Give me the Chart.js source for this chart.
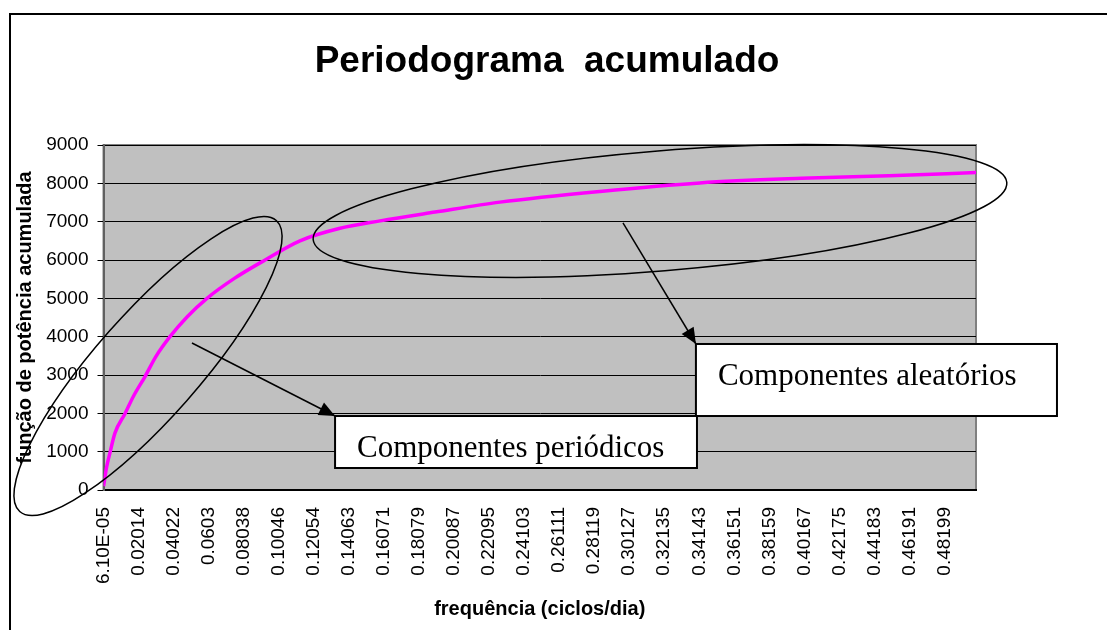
<!DOCTYPE html>
<html lang="pt">
<head>
    <meta charset="UTF-8">
    <title>Periodograma acumulado</title>
    <script src="https://cdn.jsdelivr.net/npm/chart.js"></script>
    <style>
        body { margin: 0; background: #fff; }
        #wrap { width: 1107px; height: 630px; }
    </style>
</head>
<body>
<div id="wrap"><canvas id="periodChart" width="1107" height="630"></canvas></div>
<script>
// frequency (cycles/day) and accumulated power
const freqs = [0.000061, 0.0018, 0.0037, 0.0066, 0.0123, 0.0171, 0.0238, 0.030, 0.0381, 0.048,
               0.0593, 0.075, 0.0926, 0.1126, 0.135, 0.1585, 0.19, 0.2272, 0.2845, 0.3418,
               0.40, 0.45, 0.50];
const power = [100, 600, 970, 1490, 1990, 2440, 2960, 3480, 4000, 4520,
               5000, 5520, 6000, 6500, 6820, 7020, 7250, 7510, 7790, 8010,
               8130, 8200, 8280];

// category labels shown under the x axis
const xTickLabels = ['6.10E-05', '0.02014', '0.04022', '0.0603', '0.08038', '0.10046', '0.12054',
    '0.14063', '0.16071', '0.18079', '0.20087', '0.22095', '0.24103', '0.26111', '0.28119',
    '0.30127', '0.32135', '0.34143', '0.36151', '0.38159', '0.40167', '0.42175', '0.44183',
    '0.46191', '0.48199'];
const yTicks = [0, 1000, 2000, 3000, 4000, 5000, 6000, 7000, 8000, 9000];

// annotation anchors, given in axis units (frequency, power)
const periodicEllipse = { f: 0.0255, v: 3235 };
const randomEllipse = { f: 0.3189, v: 7279 };
const periodicArrow = [{ f: 0.0507, v: 3835 }, { f: 0.1327, v: 1930 }];
const randomArrow = [{ f: 0.2977, v: 6966 }, { f: 0.3395, v: 3809 }];
const periodicBox = [{ f: 0.1327, v: 1930 }, { f: 0.3401, v: 574 }];
const randomBox = [{ f: 0.3395, v: 3809 }, { f: 0.5464, v: 1930 }];
const periodicText = 'Componentes periódicos';
const randomText = 'Componentes aleatórios';

const points = freqs.map((f, i) => ({ x: f, y: power[i] }));
const xTickValues = xTickLabels.map(s => parseFloat(s));
const FONT = '"Liberation Sans", Arial, sans-serif';

const plotBg = {
    id: 'plotBg',
    beforeDraw(chart) {
        const { ctx, chartArea: a } = chart;
        ctx.save();
        // outer frame
        ctx.strokeStyle = '#000';
        ctx.lineWidth = 2;
        ctx.beginPath();
        ctx.moveTo(10, 630);
        ctx.lineTo(10, 14);
        ctx.lineTo(1107, 14);
        ctx.stroke();
        ctx.fillStyle = '#c0c0c0';
        ctx.fillRect(a.left, a.top, a.right - a.left, a.bottom - a.top);
        ctx.strokeStyle = '#808080';
        ctx.lineWidth = 2;
        ctx.strokeRect(a.left, a.top, a.right - a.left, a.bottom - a.top);
        ctx.restore();
    }
};

function px(chart, p) {
    return [chart.scales.x.getPixelForValue(p.f), chart.scales.y.getPixelForValue(p.v)];
}

function drawArrow(ctx, a, b) {
    ctx.beginPath();
    ctx.moveTo(a[0], a[1]);
    ctx.lineTo(b[0], b[1]);
    ctx.stroke();
    const ang = Math.atan2(b[1] - a[1], b[0] - a[0]);
    const len = 16, half = 7;
    ctx.beginPath();
    ctx.moveTo(b[0], b[1]);
    ctx.lineTo(b[0] - len * Math.cos(ang) + half * Math.sin(ang), b[1] - len * Math.sin(ang) - half * Math.cos(ang));
    ctx.lineTo(b[0] - len * Math.cos(ang) - half * Math.sin(ang), b[1] - len * Math.sin(ang) + half * Math.cos(ang));
    ctx.closePath();
    ctx.fill();
}

function drawBox(ctx, tl, br, text) {
    ctx.fillStyle = '#fff';
    ctx.fillRect(tl[0], tl[1], br[0] - tl[0], br[1] - tl[1]);
    ctx.lineWidth = 2;
    ctx.strokeRect(tl[0], tl[1], br[0] - tl[0], br[1] - tl[1]);
    ctx.fillStyle = '#000';
    ctx.font = '31px "Liberation Serif", "Times New Roman", serif';
    ctx.textAlign = 'left';
    ctx.textBaseline = 'alphabetic';
    ctx.fillText(text, tl[0] + 22, tl[1] + 41);
}

const notes = {
    id: 'notes',
    afterDraw(chart) {
        const ctx = chart.ctx;
        ctx.save();
        ctx.strokeStyle = '#000';
        ctx.fillStyle = '#000';
        ctx.lineWidth = 1.5;

        let c = px(chart, periodicEllipse);
        ctx.beginPath();
        ctx.ellipse(c[0], c[1], 194, 52, -48.6 * Math.PI / 180, 0, Math.PI * 2);
        ctx.stroke();

        c = px(chart, randomEllipse);
        ctx.beginPath();
        ctx.ellipse(c[0], c[1], 348, 60, -4.7 * Math.PI / 180, 0, Math.PI * 2);
        ctx.stroke();

        drawArrow(ctx, px(chart, periodicArrow[0]), px(chart, periodicArrow[1]));
        drawArrow(ctx, px(chart, randomArrow[0]), px(chart, randomArrow[1]));

        drawBox(ctx, px(chart, randomBox[0]), px(chart, randomBox[1]), randomText);
        drawBox(ctx, px(chart, periodicBox[0]), px(chart, periodicBox[1]), periodicText);
        ctx.restore();
    }
};

const ctx = document.getElementById('periodChart').getContext('2d');
new Chart(ctx, {
    type: 'line',
    data: {
        datasets: [{
            label: 'Periodograma acumulado',
            data: points,
            borderColor: '#ff00ff',
            borderWidth: 3.5,
            pointRadius: 0,
            cubicInterpolationMode: 'monotone',
            fill: false
        }]
    },
    options: {
        responsive: false,
        animation: false,
        devicePixelRatio: 1,
        layout: { padding: { left: 12, right: 25, top: 0, bottom: 4 } },
        plugins: {
            legend: { display: false },
            tooltip: { enabled: false },
            title: {
                display: true,
                text: 'Periodograma  acumulado',
                color: '#000',
                font: { family: FONT, size: 37, weight: 'bold' },
                padding: { top: 40, bottom: 60.6 }
            }
        },
        scales: {
            x: {
                type: 'linear',
                min: 0,
                max: 0.5,
                afterBuildTicks: s => { s.ticks = xTickValues.map(v => ({ value: v })); },
                afterFit: s => { s.height = 630 - 4 - 490; },
                grid: { display: false },
                border: { color: '#000', width: 2 },
                ticks: {
                    autoSkip: false,
                    minRotation: 90,
                    maxRotation: 90,
                    padding: 9,
                    color: '#000',
                    font: { family: FONT, size: 19 },
                    callback: (v, i) => xTickLabels[i]
                },
                title: {
                    display: true,
                    text: 'frequência (ciclos/dia)',
                    color: '#000',
                    font: { family: FONT, size: 20, weight: 'bold' },
                    padding: { top: 5, bottom: 5 }
                }
            },
            y: {
                min: 0,
                max: 9000,
                afterBuildTicks: s => { s.ticks = yTicks.map(v => ({ value: v })); },
                afterFit: s => { s.width = 103.5 - 12; },
                grid: { color: '#000', lineWidth: 1, tickLength: 6, tickColor: '#000' },
                border: { color: '#606060', width: 2 },
                ticks: {
                    padding: 9,
                    color: '#000',
                    font: { family: FONT, size: 19 },
                    callback: v => String(v)
                },
                title: {
                    display: true,
                    text: 'função de potência acumulada',
                    color: '#000',
                    font: { family: FONT, size: 20, weight: 'bold' },
                    padding: { top: 1, bottom: 1 }
                }
            },
            // empty right-hand axis, only reserves the space right of the plot
            yRight: {
                position: 'right',
                display: true,
                grid: { display: false },
                border: { display: false },
                ticks: { display: false },
                afterFit: s => { s.width = 1107 - 25 - 976; }
            }
        }
    },
    plugins: [plotBg, notes]
});
</script>
</body>
</html>
